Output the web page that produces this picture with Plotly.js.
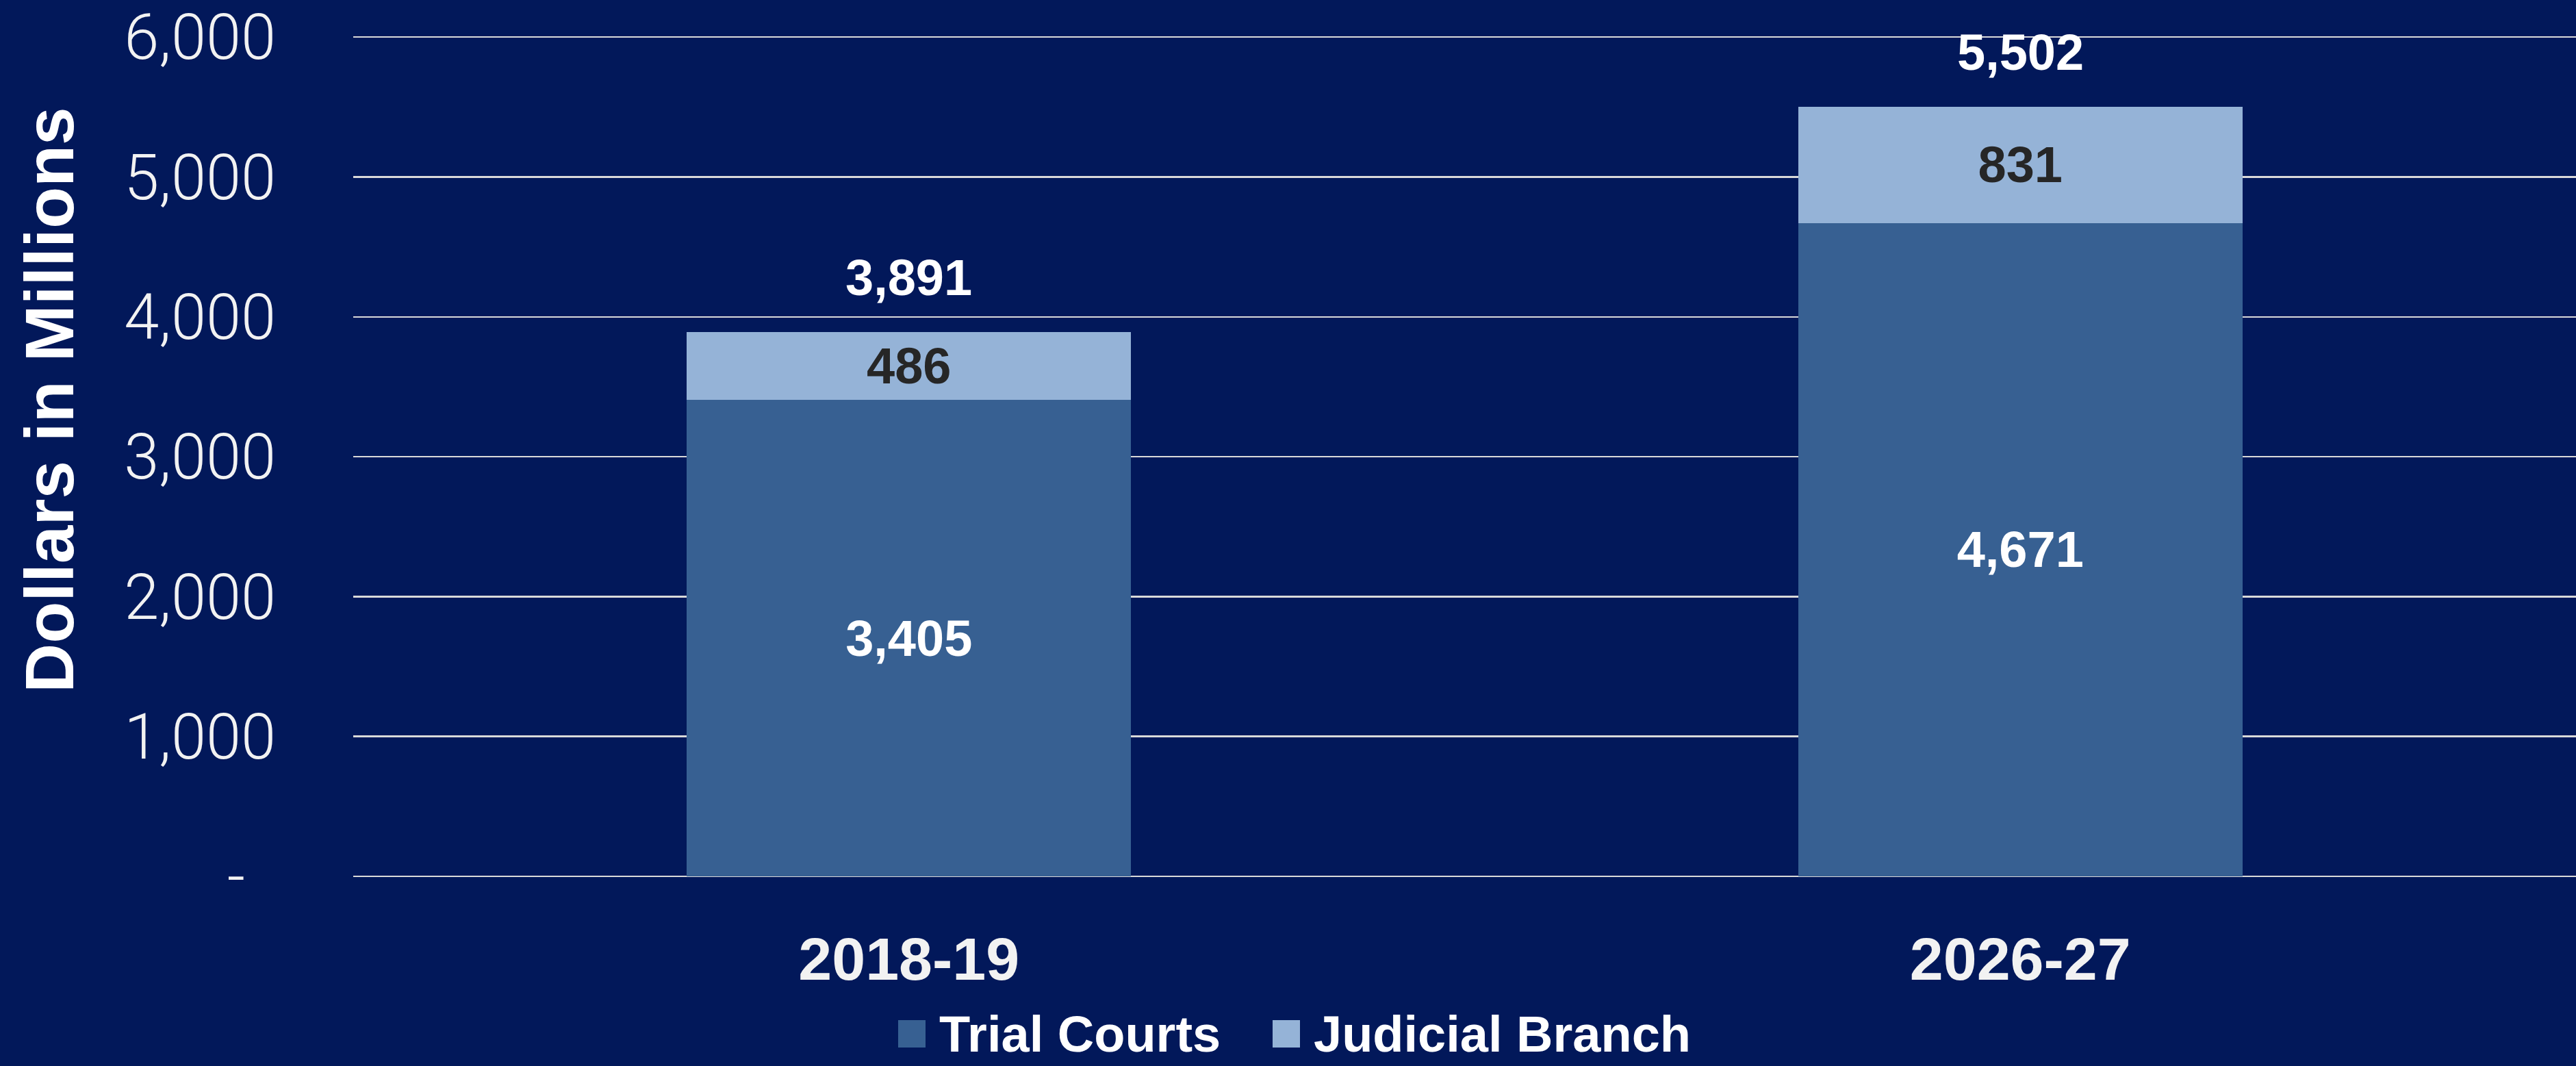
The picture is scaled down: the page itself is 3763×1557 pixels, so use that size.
<!DOCTYPE html>
<html>
<head>
<meta charset="utf-8">
<script src="https://cdn.plot.ly/plotly-3.0.1.min.js"></script>
<style>
html, body { margin: 0; padding: 0; background: #02185A; }
#chart { width: 3763px; height: 1557px; }
</style>
</head>
<body>
<div id="chart"></div>
<script>
// ---- data ----
const categories = ['2018-19', '2026-27'];
const trialCourts = [3405, 4671];
const judicialBranch = [486, 831];
const totals = [3891, 5502];
const seriesNames = ['Trial Courts', 'Judicial Branch'];
const yTickValues = [0, 1000, 2000, 3000, 4000, 5000, 6000];
const yTickLabels = ['-\u00a0\u00a0', '1,000', '2,000', '3,000', '4,000', '5,000', '6,000'];

// ---- styles ----
const W = 3763, H = 1557;
const M = { l: 516, r: 0, t: 44, b: 277 };
const plotW = W - M.l - M.r, plotH = H - M.t - M.b;
const BG = '#02185A';
const seriesColors = ['#376092', '#95B3D7'];
const boldFont = 'Liberation Sans, Arial, sans-serif';
const fmt = v => v.toLocaleString('en-US');
const pxX = x => (x - M.l) / plotW;          // page pixel -> paper x
const pxY = y => (H - M.b - y) / plotH;      // page pixel -> paper y

const traces = [
  {
    type: 'bar', x: categories, y: trialCourts, name: seriesNames[0],
    marker: { color: seriesColors[0] },
    text: trialCourts.map(fmt), textposition: 'inside', insidetextanchor: 'middle',
    textangle: 0,
    textfont: { family: boldFont, size: 74, color: '#FFFFFF', weight: 'bold' },
    hoverinfo: 'skip', showlegend: false
  },
  {
    type: 'bar', x: categories, y: judicialBranch, name: seriesNames[1],
    marker: { color: seriesColors[1] },
    text: judicialBranch.map(fmt), textposition: 'inside', insidetextanchor: 'middle',
    textangle: 0,
    textfont: { family: boldFont, size: 74, color: '#262626', weight: 'bold' },
    hoverinfo: 'skip', showlegend: false
  }
];

const annotations = [];
// totals above bars
categories.forEach((c, i) => {
  annotations.push({
    x: c, y: totals[i], xref: 'x', yref: 'y',
    text: fmt(totals[i]), showarrow: false,
    yanchor: 'bottom', xanchor: 'center', yshift: 36,
    font: { family: boldFont, size: 74, color: '#FFFFFF', weight: 'bold' }
  });
});
// y axis title
annotations.push({
  text: 'Dollars in Millions', textangle: -90, showarrow: false,
  xref: 'paper', yref: 'paper', x: pxX(72), y: pxY(584),
  xanchor: 'center', yanchor: 'middle',
  font: { family: boldFont, size: 100, color: '#FFFFFF', weight: 'bold' }
});

// legend (custom, built from series names/colours)
const shapes = [];
const legendSwatchX = [1312, 1859];
const legendY = 1510, sw = 40;
seriesNames.forEach((n, i) => {
  shapes.push({
    type: 'rect', xref: 'paper', yref: 'paper',
    x0: pxX(legendSwatchX[i]), x1: pxX(legendSwatchX[i] + sw),
    y0: pxY(legendY + sw / 2), y1: pxY(legendY - sw / 2),
    fillcolor: seriesColors[i], line: { width: 0 }
  });
  annotations.push({
    text: n, showarrow: false, xref: 'paper', yref: 'paper',
    x: pxX(legendSwatchX[i] + sw + 18), y: pxY(legendY),
    xanchor: 'left', yanchor: 'middle',
    font: { family: boldFont, size: 74, color: '#FFFFFF', weight: 'bold' }
  });
});

const layout = {
  width: W, height: H,
  paper_bgcolor: BG, plot_bgcolor: BG,
  margin: { l: M.l, r: M.r, t: M.t, b: M.b, pad: 0 },
  barmode: 'stack', bargap: 0.6,
  showlegend: false,
  xaxis: {
    type: 'category',
    ticks: '', showgrid: false, zeroline: false, showline: false,
    tickfont: { family: boldFont, size: 88, color: '#F2F2F2', weight: 'bold' },
    ticklabelstandoff: 62
  },
  yaxis: {
    range: [0, 6050],
    tickmode: 'array', tickvals: yTickValues, ticktext: yTickLabels,
    ticks: '', showline: false,
    showgrid: true, gridcolor: '#D9D9D9', gridwidth: 2.5,
    zeroline: true, zerolinecolor: '#D9D9D9', zerolinewidth: 2.5,
    tickfont: { family: 'Roboto, Open Sans, sans-serif', size: 92, color: '#F2F2F2', weight: 300 },
    ticklabelstandoff: 112,
    ticklabeloverflow: 'allow'
  },
  annotations: annotations,
  shapes: shapes
};

Plotly.newPlot('chart', traces, layout, { staticPlot: true, displayModeBar: false });
</script>
</body>
</html>
